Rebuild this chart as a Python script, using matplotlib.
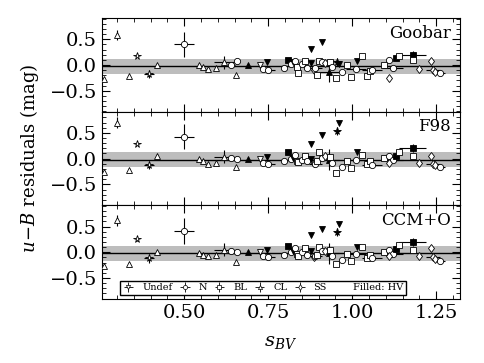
import numpy as np
import matplotlib
matplotlib.use("Agg")
import matplotlib.pyplot as plt
from matplotlib.lines import Line2D
from matplotlib.ticker import MultipleLocator

plt.rcParams["font.family"] = "DejaVu Serif"
plt.rcParams["mathtext.fontset"] = "dejavuserif"

# s_BV, class, high-velocity flag, residuals per dust model
s_bv = [0.262, 0.300, 0.335, 0.360, 0.394, 0.418, 0.500, 0.544, 0.556, 0.570,
        0.594, 0.618, 0.640, 0.656, 0.653, 0.690, 0.726, 0.735, 0.750, 0.745,
        0.797, 0.810, 0.818, 0.825, 0.830, 0.835, 0.840, 0.850, 0.860, 0.865,
        0.876, 0.877, 0.885, 0.890, 0.895, 0.900, 0.909, 0.910, 0.920, 0.930,
        0.935, 0.940, 0.953, 0.960, 0.955, 0.970, 0.985, 0.997, 1.010, 1.015,
        1.030, 1.044, 1.053, 1.060, 1.094, 1.110, 1.120, 1.110, 1.130, 1.140,
        1.180, 1.180, 1.200, 1.235, 1.240, 1.245, 1.260]
sn_class = ["CL", "CL", "CL", "pec", "pec", "CL", "N", "CL", "CL", "CL",
            "CL", "CL", "N", "N", "CL", "CL", "Undef", "N", "N", "Undef",
            "N", "BL", "N", "Undef", "N", "BL", "BL", "N", "BL", "N",
            "Undef", "Undef", "SS", "N", "BL", "BL", "Undef", "N", "SS", "CL",
            "BL", "N", "BL", "Undef", "pec", "N", "BL", "BL", "N", "Undef",
            "BL", "BL", "BL", "N", "BL", "N", "N", "SS", "BL", "BL",
            "BL", "BL", "SS", "SS", "SS", "SS", "N"]
hv = [0, 0, 0, 0, 0, 0, 0, 0, 0, 0,
      0, 0, 0, 0, 0, 1, 0, 0, 0, 1,
      0, 1, 0, 1, 0, 0, 0, 0, 0, 0,
      1, 1, 0, 0, 0, 0, 1, 0, 0, 1,
      0, 0, 0, 1, 1, 0, 0, 0, 0, 1,
      0, 0, 0, 0, 0, 0, 0, 0, 1, 0,
      1, 0, 0, 0, 0, 0, 0]
res_goobar = [-0.27, 0.58, -0.22, 0.18, -0.17, -0.01, 0.40, 0.00, -0.03, -0.07,
              -0.06, 0.05, 0.00, 0.08, -0.20, 0.00, 0.00, -0.07, -0.10, 0.05,
              -0.06, 0.10, 0.02, 0.05, 0.07, -0.03, -0.16, 0.02, 0.08, -0.06,
              0.32, 0.03, -0.10, -0.05, -0.20, 0.08, 0.44, 0.05, 0.03, -0.13,
              0.06, -0.03, -0.25, 0.02, 0.06, -0.14, 0.00, -0.23, -0.08, 0.07,
              0.17, -0.22, -0.12, -0.10, 0.00, 0.10, -0.05, -0.26, 0.13, 0.18,
              0.20, 0.09, -0.08, 0.07, -0.09, -0.13, -0.16]
res_f98 = [-0.26, 0.70, -0.23, 0.29, -0.12, 0.06, 0.43, -0.01, -0.05, -0.10,
           -0.08, 0.04, 0.02, 0.00, -0.17, 0.00, 0.00, -0.08, -0.11, 0.04,
           -0.05, 0.12, 0.00, 0.02, 0.08, -0.04, -0.06, -0.02, 0.05, -0.05,
           0.29, 0.00, -0.09, -0.10, -0.05, 0.12, 0.45, 0.02, 0.05, -0.02,
           0.03, -0.08, -0.28, 0.69, 0.53, -0.16, -0.05, -0.18, -0.02, 0.13,
           0.08, -0.10, -0.05, -0.12, 0.02, 0.05, -0.02, -0.08, 0.05, 0.13,
           0.20, 0.05, -0.08, 0.05, -0.10, -0.13, -0.17]
res_ccm = [-0.27, 0.62, -0.22, 0.25, -0.12, 0.00, 0.42, -0.02, -0.05, -0.08,
           -0.06, 0.05, 0.02, 0.01, -0.18, 0.00, 0.00, -0.07, -0.10, 0.05,
           -0.06, 0.12, 0.01, 0.03, 0.08, -0.03, -0.07, 0.00, 0.08, -0.05,
           0.33, 0.02, -0.10, -0.08, -0.06, 0.10, 0.45, 0.03, 0.03, -0.02,
           0.05, -0.07, -0.22, 0.55, 0.40, -0.15, -0.03, -0.17, -0.03, 0.10,
           0.10, -0.12, -0.05, -0.12, 0.00, 0.05, -0.03, -0.08, 0.06, 0.14,
           0.20, 0.05, -0.08, 0.08, -0.10, -0.14, -0.17]
xerr = [0, 0, 0, 0, 0.015, 0, 0.03, 0, 0, 0,
        0, 0.03, 0.01, 0, 0, 0, 0, 0, 0.02, 0,
        0, 0, 0, 0, 0, 0, 0, 0, 0, 0,
        0, 0, 0, 0.02, 0, 0, 0, 0, 0.02, 0.03,
        0, 0, 0, 0, 0.01, 0, 0, 0, 0.03, 0,
        0, 0, 0, 0.03, 0, 0, 0.03, 0, 0, 0,
        0.04, 0, 0, 0, 0.02, 0, 0.015]
yerr = [0, 0.10, 0, 0.03, 0.08, 0, 0.25, 0, 0, 0,
        0, 0.13, 0.06, 0, 0, 0, 0, 0, 0.04, 0,
        0, 0, 0, 0, 0.05, 0, 0, 0, 0, 0,
        0, 0, 0, 0, 0, 0, 0, 0, 0.05, 0.20,
        0, 0, 0, 0, 0.08, 0, 0, 0, 0, 0,
        0, 0, 0, 0, 0, 0, 0, 0, 0, 0,
        0.08, 0, 0, 0, 0.05, 0, 0]

models = ["Goobar", "F98", "CCM+O"]
residuals = [res_goobar, res_f98, res_ccm]
legend_classes = ["Undef", "N", "BL", "CL", "SS"]
zero_level = -0.02
band_lo, band_hi = -0.17, 0.12

markers = {"Undef": "v", "N": "o", "BL": "s", "CL": "^", "SS": "d", "pec": "*"}

fig, axes = plt.subplots(3, 1, figsize=(4.85, 3.63), dpi=100, sharex=True)
fig.subplots_adjust(left=0.21, right=0.948, top=0.95, bottom=0.176, hspace=0)

for ax, name, res in zip(axes, models, residuals):
    ax.axhspan(band_lo, band_hi, color="#bdbdbd", lw=0, zorder=0)
    ax.axhline(zero_level, color="black", lw=1.0, zorder=1)
    for i in range(len(s_bv)):
        m = markers[sn_class[i]]
        ms = 5.5 if m == "*" else 4.5
        ax.errorbar(s_bv[i], res[i],
                    xerr=xerr[i] if xerr[i] > 0 else None,
                    yerr=yerr[i] if yerr[i] > 0 else None,
                    fmt=m, ms=ms, mfc="black" if hv[i] else "white",
                    mec="black", mew=0.6, ecolor="black", elinewidth=0.8,
                    capsize=0, zorder=3)
    ax.text(0.975, 0.93, name, transform=ax.transAxes, ha="right", va="top",
            fontsize=12)
    ax.set_xlim(0.255, 1.32)
    ax.set_ylim(-0.91, 0.91)
    ax.set_yticks([-0.5, 0.0, 0.5])
    ax.yaxis.set_minor_locator(MultipleLocator(0.1))
    ax.xaxis.set_major_locator(MultipleLocator(0.25))
    ax.xaxis.set_minor_locator(MultipleLocator(0.05))
    ax.tick_params(which="both", direction="in", top=True, right=True,
                   labelsize=14)
    ax.tick_params(which="major", length=6)
    ax.tick_params(which="minor", length=3)

axes[-1].set_xticks([0.5, 0.75, 1.0, 1.25])
axes[-1].set_xticklabels(["0.50", "0.75", "1.00", "1.25"])
axes[-1].set_xlabel(r"$s_{BV}$", fontsize=14, labelpad=8)
fig.text(0.06, 0.563, r"$u\!-\!B$ residuals (mag)", rotation=90,
         ha="center", va="center", fontsize=13)

# legend in the bottom panel
handles = []
for c in legend_classes:
    h = axes[-1].errorbar([np.nan], [np.nan], xerr=[0.01], yerr=[0.01],
                          fmt=markers[c], ms=3, mfc="white", mec="black",
                          mew=0.5, ecolor="black", elinewidth=0.6)
    handles.append(h)
handles.append(Line2D([], [], ls="none", marker="none"))
labels = legend_classes + ["Filled: HV"]
axes[-1].legend(handles, labels, loc="lower left", ncol=6, mode="expand",
                bbox_to_anchor=(0.05, 0.04, 0.80, 0.165), borderaxespad=0,
                fontsize=7, fancybox=False, edgecolor="black", framealpha=1,
                handlelength=1.2, handletextpad=0.8, borderpad=0.3)

fig.savefig("out.png", dpi=100)
